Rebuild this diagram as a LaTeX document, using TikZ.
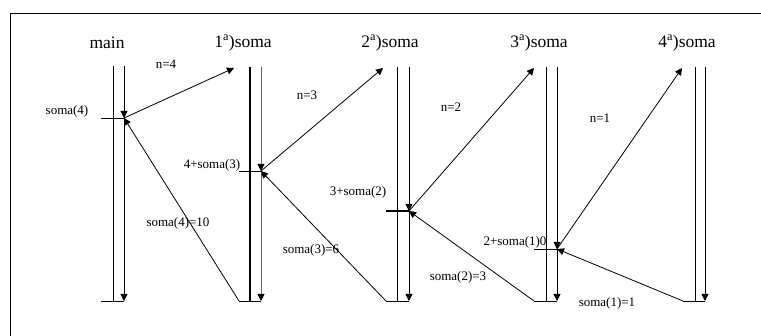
\documentclass[tikz,border=0pt]{standalone}
\usepackage{fontspec}
\setmainfont{Liberation Serif}
\usetikzlibrary{arrows.meta}
\begin{document}
\begin{tikzpicture}[x=1pt,y=-1pt,
  line width=0.8pt,
  arr/.style={-{Triangle[length=7pt,width=7pt,color=black]}},
  head/.style={font=\fontsize{17.5}{17.5}\selectfont, inner sep=0pt},
  lbl/.style={font=\fontsize{13}{13}\selectfont, inner sep=0pt},
  thickline/.style={line width=2pt},
  grayline/.style={draw=gray!80!black}]
\useasboundingbox (0,0) rectangle (761,336);
% frame (top and left edges)
\coordinate (fa) at (10,336);
\coordinate (fb) at (10,13);
\coordinate (fc) at (761,13);
\draw (fa) -- (fb) -- (fc);
% headers
\node[head] (h0) at (107,43) {main};
\node[head] (h1) at (243,43) {1\textsuperscript{a})soma};
\node[head] (h2) at (390,43) {2\textsuperscript{a})soma};
\node[head] (h3) at (539,43) {3\textsuperscript{a})soma};
\node[head] (h4) at (687,43) {4\textsuperscript{a})soma};
% main column
\coordinate (m0t) at (113,66); \coordinate (m0b) at (113,301);
\coordinate (r0t) at (124,66); \coordinate (r0m) at (124,118); \coordinate (r0b) at (124,301);
\coordinate (k0) at (101,118); \coordinate (b0) at (101,301);
\draw (m0t) -- (m0b);
\draw[arr] (r0t) -- (r0m);
\draw[arr] (r0m) -- (r0b);
\draw (k0) -- (r0m);
\draw (b0) -- (r0b);
% column 1
\coordinate (m1t) at (250,67); \coordinate (m1b) at (250,301);
\coordinate (r1t) at (261,67); \coordinate (r1m) at (261,171); \coordinate (r1b) at (261,301);
\coordinate (k1) at (239,171); \coordinate (b1) at (239,301);
\draw[thickline] (m1t) -- (m1b);
\draw[arr,grayline] (r1t) -- (r1m);
\draw[arr,grayline] (r1m) -- (r1b);
\draw (k1) -- (r1m);
\draw (b1) -- (r1b);
% column 2
\coordinate (m2t) at (397,67); \coordinate (m2b) at (397,301);
\coordinate (r2t) at (409,67); \coordinate (r2m) at (409,211); \coordinate (r2b) at (409,301);
\coordinate (k2) at (386,211); \coordinate (b2) at (386,301);
\draw (m2t) -- (m2b);
\draw[arr] (r2t) -- (r2m);
\draw[arr] (r2m) -- (r2b);
\draw[thickline] (k2) -- (r2m);
\draw (b2) -- (r2b);
% column 3
\coordinate (m3t) at (546,67); \coordinate (m3b) at (546,301);
\coordinate (r3t) at (557,67); \coordinate (r3m) at (557,249); \coordinate (r3b) at (557,301);
\coordinate (k3) at (534,249); \coordinate (b3) at (534,301);
\draw (m3t) -- (m3b);
\draw[arr] (r3t) -- (r3m);
\draw[arr] (r3m) -- (r3b);
\draw (k3) -- (r3m);
\draw (b3) -- (r3b);
% column 4
\coordinate (m4t) at (695,67); \coordinate (m4b) at (695,301);
\coordinate (r4t) at (705,67); \coordinate (r4b) at (705,301);
\coordinate (b4) at (683,301);
\draw (m4t) -- (m4b);
\draw[arr] (r4t) -- (r4b);
\draw (b4) -- (r4b);
% call arrows
\coordinate (c1) at (234,68);
\coordinate (c2) at (383,68);
\coordinate (c3) at (534,68);
\coordinate (c4) at (682,68);
\draw[arr] (r0m) -- (c1);
\draw[arr] (r1m) -- (c2);
\draw[arr] (r2m) -- (c3);
\draw[arr] (r3m) -- (c4);
% return arrows
\draw[arr] (b1) -- (r0m);
\draw[arr] (b2) -- (r1m);
\draw[arr] (b3) -- (r2m);
\draw[arr] (b4) -- (r3m);
% labels
\node[lbl] (l1) at (166,64) {n=4};
\node[lbl] (l2) at (67,111) {soma(4)};
\node[lbl] (l3) at (307,95) {n=3};
\node[lbl] (l4) at (212,165) {4+soma(3)};
\node[lbl] (l5) at (178,223) {soma(4)=10};
\node[lbl] (l6) at (311,250) {soma(3)=6};
\node[lbl] (l7) at (358,192) {3+soma(2)};
\node[lbl] (l8) at (451,107) {n=2};
\node[lbl] (l9) at (600,118) {n=1};
\node[lbl] (l10) at (515,242) {2+soma(1)0};
\node[lbl] (l11) at (458,277) {soma(2)=3};
\node[lbl] (l12) at (607,303) {soma(1)=1};
\end{tikzpicture}
\end{document}
